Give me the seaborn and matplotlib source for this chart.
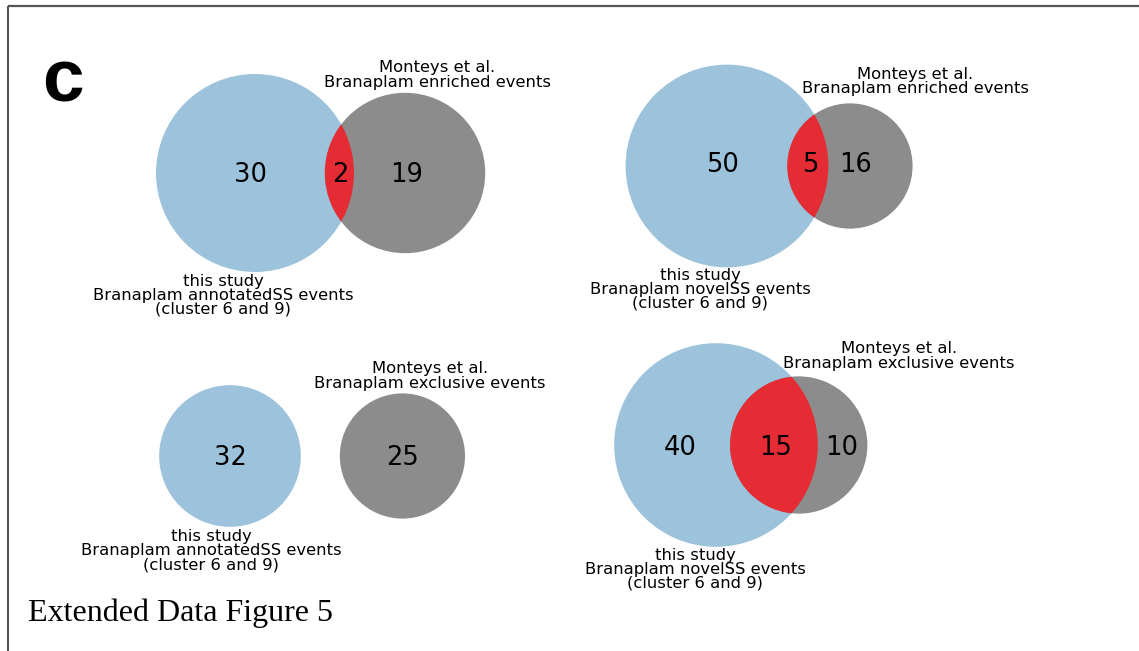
import numpy as np
import matplotlib
matplotlib.use("Agg")
import matplotlib.pyplot as plt
from matplotlib.patches import Circle
import seaborn as sns

sns.set_theme(style="white")
plt.rcParams["font.family"] = ["DejaVu Sans"]
plt.rcParams["text.color"] = "black"

# ---- data: four pairwise overlaps (this study vs Monteys et al.) ----
study_sets = ["annotatedSS", "novelSS", "annotatedSS", "novelSS"]
monteys_sets = ["enriched", "enriched", "exclusive", "exclusive"]
study_only = [30, 50, 32, 40]
shared = [2, 5, 0, 15]
monteys_only = [19, 16, 25, 10]

# ---- layout per panel (pixel space) ----
px_per_sqrt = [17.5, 13.67, 12.52, 13.73]          # radius = k * sqrt(set size)
study_center = [(255, 173), (727, 166), (230, 456), (716, 445)]
disjoint_gap = [0, 0, 39, 0]
count_x = [(250, 340, 407), (723, 810, 855), (230, None, 402), (680, 776, 842)]
count_y = [175, 165, 458, 448]
top_label_xy = [(437, 72, 87), (915, 79, 93), (430, 373, 388), (899, 353, 368)]
bottom_label_xy = [(223, 286, 300, 313), (700, 280, 294, 307),
                   (211, 541, 555, 569), (695, 560, 574, 588)]

COL_STUDY = "#9dc3dc"
COL_MONTEYS = "#8c8c8c"
COL_SHARED = "#e52b33"


def lens_area(r1, r2, d):
    if d >= r1 + r2:
        return 0.0
    if d <= abs(r1 - r2):
        return np.pi * min(r1, r2) ** 2
    a1 = r1 ** 2 * np.arccos((d ** 2 + r1 ** 2 - r2 ** 2) / (2 * d * r1))
    a2 = r2 ** 2 * np.arccos((d ** 2 + r2 ** 2 - r1 ** 2) / (2 * d * r2))
    a3 = 0.5 * np.sqrt((-d + r1 + r2) * (d + r1 - r2) * (d - r1 + r2) * (d + r1 + r2))
    return a1 + a2 - a3


def center_distance(r1, r2, target):
    lo, hi = abs(r1 - r2), r1 + r2
    for _ in range(80):
        mid = 0.5 * (lo + hi)
        if lens_area(r1, r2, mid) > target:
            lo = mid
        else:
            hi = mid
    return 0.5 * (lo + hi)


W, H = 1139, 651
fig = plt.figure(figsize=(W / 100, H / 100), dpi=100)
ax = fig.add_axes([0, 0, 1, 1])
ax.set_xlim(0, W)
ax.set_ylim(H, 0)
ax.axis("off")

for i in range(4):
    k = px_per_sqrt[i]
    n_study = study_only[i] + shared[i]
    n_monteys = monteys_only[i] + shared[i]
    r1 = k * np.sqrt(n_study)
    r2 = k * np.sqrt(n_monteys)
    unit = np.pi * k ** 2
    if shared[i] > 0:
        d = center_distance(r1, r2, shared[i] * unit)
    else:
        d = r1 + r2 + disjoint_gap[i]
    cx, cy = study_center[i]

    c_study = Circle((cx, cy), r1, facecolor=COL_STUDY, edgecolor="none", lw=0)
    c_monteys = Circle((cx + d, cy), r2, facecolor=COL_MONTEYS, edgecolor="none", lw=0)
    ax.add_patch(c_study)
    ax.add_patch(c_monteys)
    if shared[i] > 0:
        c_shared = Circle((cx + d, cy), r2, facecolor=COL_SHARED, edgecolor="none", lw=0)
        ax.add_patch(c_shared)
        c_shared.set_clip_path(c_study)

    xs = count_x[i]
    for x, val in zip(xs, (study_only[i], shared[i], monteys_only[i])):
        if x is None:
            continue
        ax.text(x, count_y[i], str(val), ha="center", va="center",
                fontsize=18.5, color="black")

    tx, ty1, ty2 = top_label_xy[i]
    ax.text(tx, ty1, "Monteys et al.", ha="center", va="baseline", fontsize=11.8)
    ax.text(tx, ty2, f"Branaplam {monteys_sets[i]} events", ha="center",
            va="baseline", fontsize=11.8)

    bx, by1, by2, by3 = bottom_label_xy[i]
    ax.text(bx, by1, "this study", ha="center", va="baseline", fontsize=11.8)
    ax.text(bx, by2, f"Branaplam {study_sets[i]} events", ha="center",
            va="baseline", fontsize=11.8)
    ax.text(bx, by3, "(cluster 6 and 9)", ha="center", va="baseline", fontsize=11.8)

# panel letter and caption
ax.text(42, 102, "c", ha="left", va="baseline", fontsize=54, fontweight="bold",
        family="Liberation Sans", color="black")
ax.text(28, 621, "Extended Data Figure 5", ha="left", va="baseline",
        fontsize=23, family="Liberation Serif", color="black")

# page frame
ax.plot([8, 8], [6, H], color="#555555", lw=1.5, solid_capstyle="butt")
ax.plot([8, W], [6, 6], color="#555555", lw=1.6, solid_capstyle="butt")

fig.savefig("out.png", dpi=100)
